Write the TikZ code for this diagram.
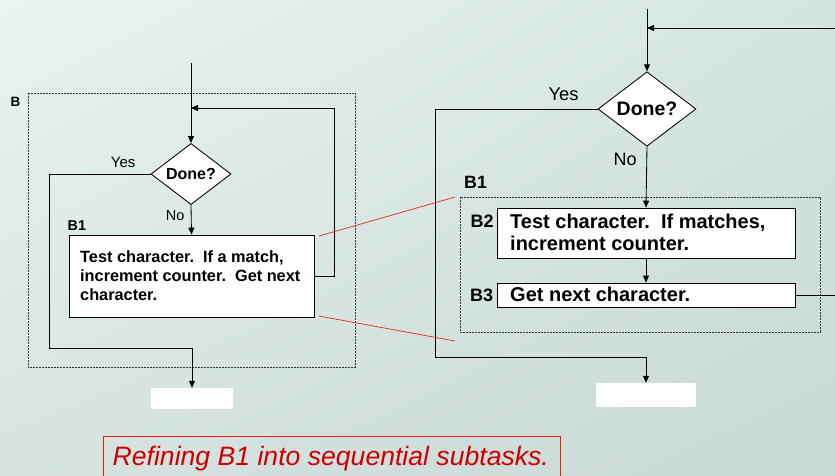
\documentclass[tikz,border=0pt]{standalone}
\usepackage{fontspec}
\setmainfont{Liberation Sans}
\setsansfont{Liberation Sans}
\usetikzlibrary{shapes.geometric,arrows.meta,shadings}
\definecolor{bgA}{HTML}{E8F4F1}
\definecolor{bgB}{HTML}{D7E5E2}
\definecolor{bgC}{HTML}{D6E3E0}
\definecolor{bgD}{HTML}{CAD8D6}
\definecolor{capred}{HTML}{CC0000}
\definecolor{capframe}{HTML}{E8200C}
\definecolor{zoomred}{HTML}{E02A1A}
\newcommand{\fs}[1]{\fontsize{#1}{#1}\selectfont}
\tikzset{
  flow/.style={line width=0.85pt, draw=black},
  arr/.style={flow, -{Triangle[length=7pt,width=6pt]}},
  decide/.style={diamond, draw=black, line width=0.85pt, fill=white, inner sep=0pt},
  taskbox/.style={rectangle, draw=black, line width=0.85pt, fill=white, inner sep=0pt},
  exitbox/.style={rectangle, fill=white, inner sep=0pt},
  blockframe/.style={draw=black!80, line width=0.6pt, dash pattern=on 2pt off 1pt},
  txt/.style={inner sep=0pt, anchor=base west},
  zoomline/.style={draw=zoomred, line width=0.7pt}
}
\begin{document}
\begin{tikzpicture}[x=1pt,y=-1pt]
\useasboundingbox (0,0) rectangle (835,475);
\shade[upper left=bgA, upper right=bgB, lower left=bgC, lower right=bgD] (0,0) rectangle (835,475);

% ---------- coarse version: block B ----------
\draw[blockframe] (28,93) rectangle (355,367);
\node[txt, font=\bfseries\fs{13.5}] (lblB) at (10.5,106) {B};

\coordinate (in1) at (191,63);
\node[decide, minimum width=80pt, minimum height=60pt, font=\bfseries\fs{16}] (d1) at (191,174) {Done?};
\node[taskbox, minimum width=245pt, minimum height=82pt] (b1) at (191.5,276) {};
\node[txt, font=\bfseries\fs{16.3}] (b1l1) at (80,262.3) {Test character.\ \ If a match,};
\node[txt, font=\bfseries\fs{16.3}] (b1l2) at (80,281.3) {increment counter.\ \ Get next};
\node[txt, font=\bfseries\fs{16.3}] (b1l3) at (80,300.6) {character.};
\node[txt, font=\bfseries\fs{14.3}] (lblB1a) at (67.5,230) {B1};
\node[txt, font=\fs{15}] (yes1) at (110.7,167.7) {Yes};
\node[txt, font=\fs{14.5}] (no1) at (165.7,220) {No};
\node[exitbox, minimum width=82pt, minimum height=21pt] (end1) at (192,398.5) {};

\coordinate (loopR1) at (334,276);
\coordinate (loopT1) at (191,108);
\coordinate (yesC1) at (49,348);

\draw[arr] (in1) -- (d1.north);
\draw[arr] (d1.south) -- (b1.north);
\draw[arr] (b1.east) -- (loopR1) |- (loopT1);
\draw[arr] (d1.west) -| (yesC1) -| (end1.north);

% ---------- refined version: B1 split into B2 and B3 ----------
\coordinate (in2) at (647,9);
\coordinate (back2) at (835,28);
\coordinate (backT2) at (647,28);
\node[decide, minimum width=98pt, minimum height=74pt, font=\bfseries\fs{19.5}] (d2) at (647,109) {Done?};
\node[txt, font=\fs{18.4}] (yes2) at (548.3,100.7) {Yes};
\node[txt, font=\fs{18}] (no2) at (613.3,165) {No};

\draw[blockframe] (460,197) rectangle (820,332);
\node[txt, font=\bfseries\fs{17.8}] (lblB1b) at (464,188.3) {B1};

\node[taskbox, minimum width=298pt, minimum height=50pt] (b2) at (646,233) {};
\node[txt, font=\bfseries\fs{20}] (b2l1) at (510,228.3) {Test character.\ \ If matches,};
\node[txt, font=\bfseries\fs{20}] (b2l2) at (510,250.7) {increment counter.};
\node[txt, font=\bfseries\fs{18}] (lblB2) at (470.5,227.7) {B2};

\node[taskbox, minimum width=298pt, minimum height=24pt] (b3) at (646,295) {};
\node[txt, font=\bfseries\fs{20}] (b3l1) at (510,301) {Get next character.};
\node[txt, font=\bfseries\fs{18}] (lblB3) at (470,301) {B3};

\node[exitbox, minimum width=100pt, minimum height=24pt] (end2) at (646,395) {};
\coordinate (out2) at (835,295);
\coordinate (yesC2) at (435,357);

\draw[arr] (in2) -- (d2.north);
\draw[arr] (back2) -- (backT2);
\draw[arr] (d2.south) -- (b2.north);
\draw[arr] (b2.south) -- (b3.north);
\draw[flow] (b3.east) -- (out2);
\draw[arr] (d2.west) -| (yesC2) -| (end2.north);

% ---------- zoom guides ----------
\coordinate (zA1) at (319,236);
\coordinate (zA2) at (455,197);
\coordinate (zB1) at (319,316);
\coordinate (zB2) at (455,341);
\draw[zoomline] (zA1) -- (zA2);
\draw[zoomline] (zB1) -- (zB2);

% ---------- caption ----------
\node[draw=capframe, line width=0.8pt, anchor=north west, minimum width=457pt, minimum height=48pt, inner sep=0pt] (capbox) at (103,436) {};
\node[txt, text=capred, font=\itshape\fs{26.6}] (cap) at (112.5,465.7) {Refining B1 into sequential subtasks.};
\end{tikzpicture}
\end{document}
